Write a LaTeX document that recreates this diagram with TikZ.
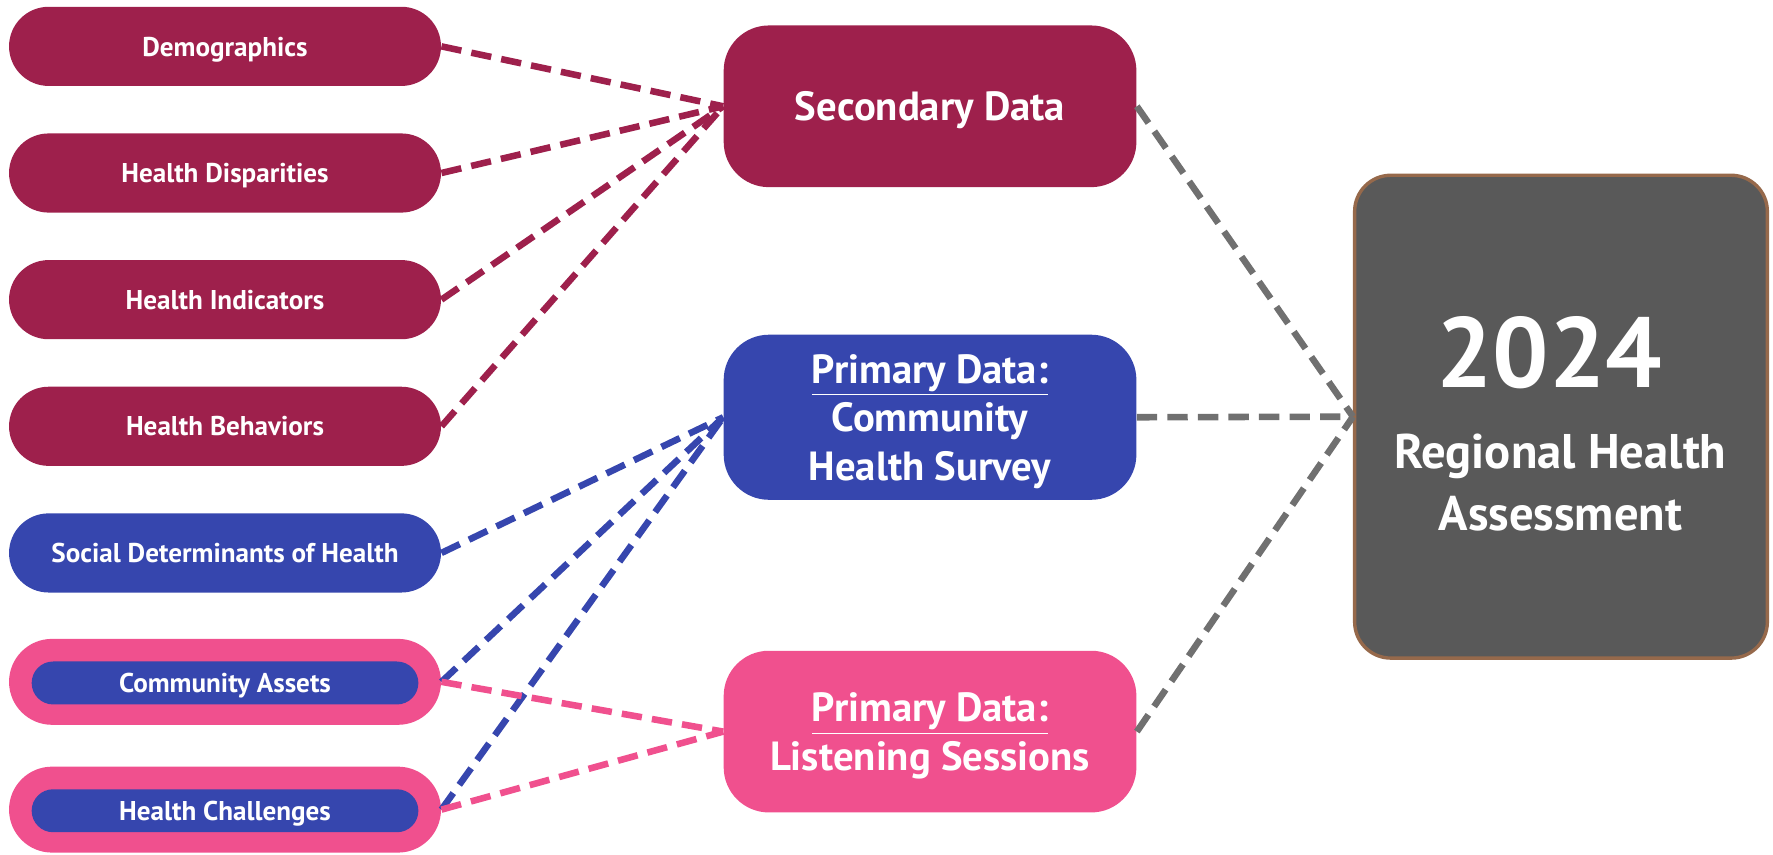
\documentclass[tikz,border=0pt]{standalone}
\usepackage{fontspec}
\setmainfont{PT Sans}
\definecolor{maroon}{RGB}{158,32,76}
\definecolor{rblue}{RGB}{54,70,174}
\definecolor{rpink}{RGB}{240,80,142}
\definecolor{dgray}{RGB}{89,89,89}
\definecolor{lgray}{RGB}{112,112,112}
\definecolor{brown}{RGB}{150,105,75}
\tikzset{
  pill/.style={rectangle, rounded corners=17.5pt, minimum width=191pt, minimum height=35pt, text=white, font=\bfseries\fontsize{12}{14}\selectfont, inner sep=0pt, text depth=0pt},
  innerpill/.style={rectangle, rounded corners=9.5pt, minimum width=171pt, minimum height=19pt, fill=rblue, text=white, font=\bfseries\fontsize{12}{14}\selectfont, inner sep=0pt, text depth=0pt},
  midbox/.style={rectangle, rounded corners=20pt, minimum width=182.5pt, minimum height=71.5pt, text=white, align=center, font=\bfseries\fontsize{18}{21.5}\selectfont, inner sep=0pt, text depth=0pt},
  conn/.style={line width=2.9pt, dash pattern=on 9pt off 4.5pt},
}
\begin{document}
\begin{tikzpicture}[x=0.5pt,y=-0.5pt]
\useasboundingbox (0,0) rectangle (1568,756);
% left pills
\node[pill, fill=maroon] (dem) at (199,41) {Demographics};
\node[pill, fill=maroon] (dis) at (199,153) {Health Disparities};
\node[pill, fill=maroon] (ind) at (199,265) {Health Indicators};
\node[pill, fill=maroon] (beh) at (199,377) {Health Behaviors};
\node[pill, fill=rblue] (sdh) at (199,489) {Social Determinants of Health};
\node[pill, fill=rpink, minimum height=38pt, rounded corners=19pt] (ca) at (199,603) {};
\node[innerpill] (cain) at (199,604) {Community Assets};
\node[pill, fill=rpink, minimum height=38pt, rounded corners=19pt] (hc) at (199,716) {};
\node[innerpill] (hcin) at (199,717) {Health Challenges};
% middle boxes
\node[midbox, fill=maroon] (sec) at (822.5,94) {Secondary Data};
\node[midbox, fill=rblue, minimum height=73pt] (chs) at (822.5,369) {\underline{Primary Data:}\\Community\\Health Survey};
\node[midbox, fill=rpink] (ls) at (822.5,647) {\underline{Primary Data:}\\Listening Sessions};
% right box
\node[rectangle, rounded corners=16pt, minimum width=182.5pt, minimum height=213.5pt, fill=dgray, draw=brown, line width=1.5pt] (rha) at (1380.5,368.5) {};
\node[text=white, font=\bfseries\fontsize{44}{44}\selectfont, inner sep=0pt] (yr) at (1370,312) {2024};
\node[text=white, font=\bfseries\fontsize{21.5}{27.5}\selectfont, inner sep=0pt, align=center] (rhat) at (1380,427) {Regional Health\\Assessment};
% connectors
\draw[conn, maroon] (dem.east) -- (sec.west);
\draw[conn, maroon] (dis.east) -- (sec.west);
\draw[conn, maroon] (ind.east) -- (sec.west);
\draw[conn, maroon] (beh.east) -- (sec.west);
\draw[conn, rblue] (sdh.east) -- (chs.west);
\draw[conn, rblue] (ca.east) -- (chs.west);
\draw[conn, rblue] (hc.east) -- (chs.west);
\draw[conn, rpink] (ca.east) -- (ls.west);
\draw[conn, rpink] (hc.east) -- (ls.west);
\draw[conn, lgray] (sec.east) -- (rha.west);
\draw[conn, lgray] (chs.east) -- (rha.west);
\draw[conn, lgray] (ls.east) -- (rha.west);
\end{tikzpicture}
\end{document}
